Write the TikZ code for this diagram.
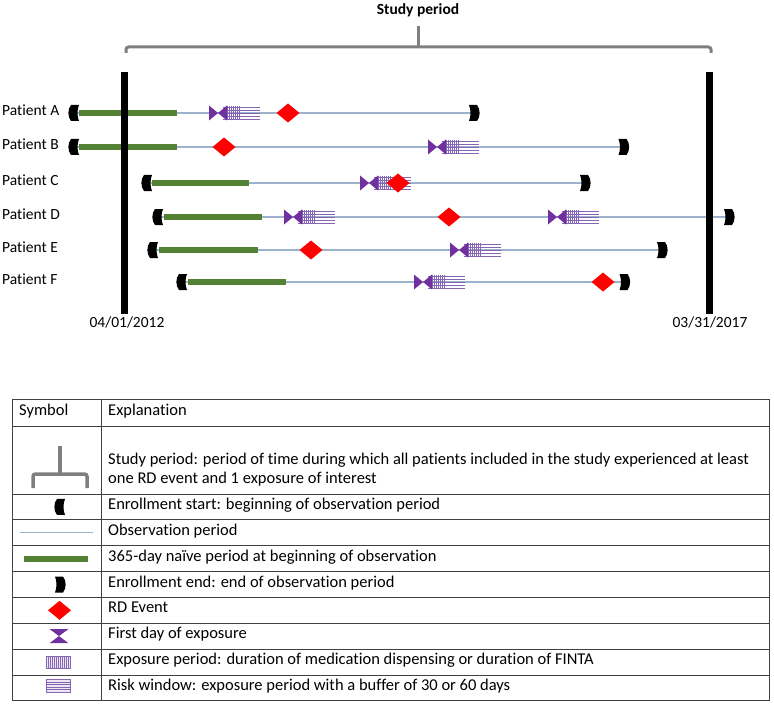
\documentclass[tikz,border=0pt]{standalone}
\usepackage{fontspec}
\setmainfont[Ligatures={NoCommon}]{Carlito}
\definecolor{obs}{HTML}{9DB2CC}
\definecolor{naive}{HTML}{548235}
\definecolor{expo}{HTML}{7030A0}
\definecolor{hatchc}{HTML}{8466B4}
\definecolor{brk}{HTML}{7F7F7F}
\definecolor{gridc}{HTML}{404040}
\definecolor{boxfill}{HTML}{ECE6F3}
\tikzset{
  txt/.style={font=\fontsize{15.5}{18}\selectfont, inner sep=0pt, text height=0.7em, text depth=0.2em},
  tabtxt/.style={font=\fontsize{16.5}{19}\selectfont, inner sep=0pt, text height=0.7em, text depth=0.2em},
  boldtxt/.style={font=\fontsize{15.5}{18}\selectfont\bfseries, inner sep=0pt},
  obsline/.style={draw=obs, line width=1.5pt},
  naiveline/.style={draw=naive, line width=5.5pt},
  studybar/.style={draw=black, line width=7pt},
  bracketline/.style={draw=brk, line width=3pt, rounded corners=2.5pt},
  gridline/.style={draw=gridc, line width=0.8pt},
  hatchline/.style={draw=hatchc, line width=0.6pt},
  startmark/.pic={\fill[black] (-3,-8) -- (5,-8) .. controls (3,-3) and (3,3) .. (5,8) -- (-3,8) .. controls (-6.5,4) and (-6.5,-4) .. (-3,-8) -- cycle;},
  endmark/.pic={\fill[black] (3,-8) -- (-5,-8) .. controls (-3,-3) and (-3,3) .. (-5,8) -- (3,8) .. controls (6.5,4) and (6.5,-4) .. (3,-8) -- cycle;},
  rdevent/.pic={\fill[red] (-11.5,0) -- (0,-9.5) -- (11.5,0) -- (0,9.5) -- cycle;},
  exposure/.pic={
    \foreach \yy in {-6,-3,0,3,6} \draw[hatchline] (14,\yy) -- (51,\yy);
    \foreach \xx in {18,20,...,30} \draw[hatchline] (\xx,-7) -- (\xx,7);
    \fill[expo] (0,-7.5) -- (9,0) -- (0,7.5) -- cycle;
    \fill[expo] (18,-7.5) -- (9,0) -- (18,7.5) -- cycle;
  }
}
\begin{document}
\begin{tikzpicture}[x=1pt,y=-1pt]
\useasboundingbox (0,0) rectangle (774,706);

% ---- title and study bracket
\node[boldtxt] (title) at (418,10) {Study period};
\draw[bracketline] (126,53) -- (126,47) -- (711,47) -- (711,53);
\coordinate (tickTop) at (418,26);
\coordinate (tickBot) at (418,47);
\draw[draw=brk, line width=3pt] (tickBot) -- (tickTop);

% ---- patient labels
\node[txt, anchor=west] (pA) at (2,113) {Patient A};
\node[txt, anchor=west] (pB) at (2,147) {Patient B};
\node[txt, anchor=west] (pC) at (2,183) {Patient C};
\node[txt, anchor=west] (pD) at (2,217) {Patient D};
\node[txt, anchor=west] (pE) at (2,250) {Patient E};
\node[txt, anchor=west] (pF) at (2,282) {Patient F};

% ---- observation lines
\foreach \nm/\yy/\s/\e in {A/113/74/474, B/147/74/623.5, C/183/147/585, D/217/158/729, E/250/153/662, F/282/182/624.5}{
  \coordinate (s\nm) at (\s,\yy);
  \coordinate (e\nm) at (\e,\yy);
  \draw[obsline] (s\nm) -- (e\nm);
}
% ---- naive periods
\foreach \nm/\yy/\a/\b in {A/113/79/177, B/147/79/177, C/183/152/249, D/217/164/262, E/250/159/258, F/282/188/286}{
  \coordinate (na\nm) at (\a,\yy);
  \coordinate (nb\nm) at (\b,\yy);
  \draw[naiveline] (na\nm) -- (nb\nm);
}
% ---- exposures
\pic at (209,113) {exposure};
\pic at (428,147) {exposure};
\pic at (360,183) {exposure};
\pic at (284,217) {exposure};
\pic at (548,217) {exposure};
\pic at (450,250) {exposure};
\pic at (414,282) {exposure};
% ---- RD events
\pic at (288,113) {rdevent};
\pic at (224,147) {rdevent};
\pic at (398,183) {rdevent};
\pic at (449,217) {rdevent};
\pic at (311,250) {rdevent};
\pic at (603,282) {rdevent};
% ---- enrollment marks
\foreach \nm in {A,B,C,D,E,F}{
  \pic at (s\nm) {startmark};
  \pic at (e\nm) {endmark};
}

% ---- study bars and dates
\coordinate (b1t) at (124,72); \coordinate (b1b) at (124,314);
\coordinate (b2t) at (709,72); \coordinate (b2b) at (709,314);
\draw[studybar] (b1t) -- (b1b);
\draw[studybar] (b2t) -- (b2b);
\node[txt] (d1) at (127,325) {04/01/2012};
\node[txt] (d2) at (710,325) {03/31/2017};

% ---- legend table
\draw[gridline] (12,399) rectangle (769,700.7);
\draw[gridline] (101.7,399) -- (101.7,700.7);
\foreach \yy in {426,494,519.8,545.7,571.5,597.4,623.2,649.0,674.9}
  \draw[gridline] (12,\yy) -- (769,\yy);

\node[tabtxt, anchor=west] (hS) at (19,412.7) {Symbol};
\node[tabtxt, anchor=west] (hE) at (108,412.7) {Explanation};
\node[tabtxt, anchor=west] (l1a) at (108,461.5) {Study period: period of time during which all patients included in the study experienced at least};
\node[tabtxt, anchor=west] (l1b) at (108,481) {one RD event and 1 exposure of interest};
\node[tabtxt, anchor=west] (l2) at (108,506.9) {Enrollment start: beginning of observation period};
\node[tabtxt, anchor=west] (l3) at (108,532.8) {Observation period};
\node[tabtxt, anchor=west] (l4) at (108,558.6) {365-day naïve period at beginning of observation};
\node[tabtxt, anchor=west] (l5) at (108,584.5) {Enrollment end: end of observation period};
\node[tabtxt, anchor=west] (l6) at (108,610.3) {RD Event};
\node[tabtxt, anchor=west] (l7) at (108,636.1) {First day of exposure};
\node[tabtxt, anchor=west] (l8) at (108,662.0) {Exposure period: duration of medication dispensing or duration of FINTA};
\node[tabtxt, anchor=west] (l9) at (108,687.8) {Risk window: exposure period with a buffer of 30 or 60 days};

% legend symbols
\draw[draw=brk, line width=3.5pt, rounded corners=2.5pt] (33,488) -- (33,474) -- (87,474) -- (87,488);
\draw[draw=brk, line width=3.5pt] (60,474) -- (60,446);
\pic at (60,506.9) {startmark};
\draw[obsline, line width=1pt] (20,532.8) -- (93,532.8);
\draw[naiveline, line width=6pt] (24,558.6) -- (88,558.6);
\pic at (60,584.5) {endmark};
\pic at (59.5,610.3) {rdevent};
\fill[expo] (49.5,629) -- (68.5,629) -- (59,636.1) -- cycle;
\fill[expo] (49.5,643.2) -- (68.5,643.2) -- (59,636.1) -- cycle;
\fill[boxfill] (46,656) rectangle (70,668);
\foreach \xx in {46,48,...,70} \draw[hatchline] (\xx,656) -- (\xx,668);
\draw[hatchline] (46,656) rectangle (70,668);
\fill[boxfill] (46,679.5) rectangle (70,692);
\foreach \yy in {679.5,682,684.5,687,689.5,692} \draw[hatchline] (46,\yy) -- (70,\yy);
\draw[hatchline] (46,679.5) rectangle (70,692);
\end{tikzpicture}
\end{document}
